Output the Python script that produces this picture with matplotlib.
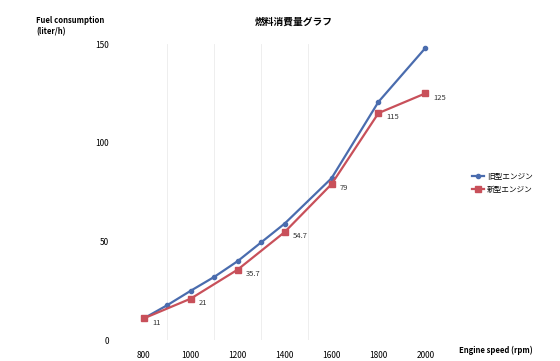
import matplotlib
matplotlib.use("Agg")
import matplotlib.pyplot as plt

plt.rcParams['font.family'] = ['Noto Sans CJK JP', 'DejaVu Sans']

# engine speed (rpm)
rpm_old = [800, 900, 1000, 1100, 1200, 1300, 1400, 1600, 1800, 2000]
fuel_old = [11, 17.7, 25, 32, 40, 49.5, 59, 82, 120.7, 148]
rpm_new = [800, 1000, 1200, 1400, 1600, 1800, 2000]
fuel_new = [11, 21, 35.7, 54.7, 79, 115, 125]
labels_new = ["11", "21", "35.7", "54.7", "79", "115", "125"]
x_ticks = [800, 1000, 1200, 1400, 1600, 1800, 2000]
y_ticks = [0, 50, 100, 150]

fig = plt.figure(figsize=(5.6, 3.61), dpi=100)
ax = fig.add_axes([0.215, 0.058, 0.62, 0.82])

blue = '#4a6cae'
red = '#c8505a'

# faint vertical lines as in the scan
for v in [900, 1100, 1300, 1500]:
    ax.axvline(v, color='#ebebeb', lw=0.6, zorder=0)

ax.plot(rpm_old, fuel_old, color=blue, lw=1.6, marker='o', ms=3, label='旧型エンジン', zorder=3)
ax.plot(rpm_new, fuel_new, color=red, lw=1.6, marker='s', ms=4.5, label='新型エンジン', zorder=4)

for x, y, t in zip(rpm_new, fuel_new, labels_new):
    ax.annotate(t, (x, y), xytext=(6, -3), textcoords='offset points',
                fontsize=5.5, va='center', ha='left', color='#333333')

ax.set_xlim(700, 2180)
ax.set_ylim(0, 150)
ax.set_xticks(x_ticks)
ax.set_yticks(y_ticks)
ax.tick_params(length=0, labelsize=6, pad=8)
for s in ax.spines.values():
    s.set_visible(False)

ax.set_title('燃料消費量グラフ', fontsize=7, fontweight='bold', pad=14)
fig.text(0.065, 0.955, 'Fuel consumption\n(liter/h)', fontsize=5.5, ha='left', va='top',
         fontweight='bold', linespacing=1.3)
fig.text(0.82, 0.03, 'Engine speed (rpm)', fontsize=5.5, ha='left', va='center', fontweight='bold')

ax.legend(loc='center left', bbox_to_anchor=(1.0, 0.53), frameon=False, fontsize=5.5,
          handlelength=1.6, handletextpad=0.3, labelspacing=0.6, borderaxespad=0.2)

fig.savefig('out.png', dpi=100)
